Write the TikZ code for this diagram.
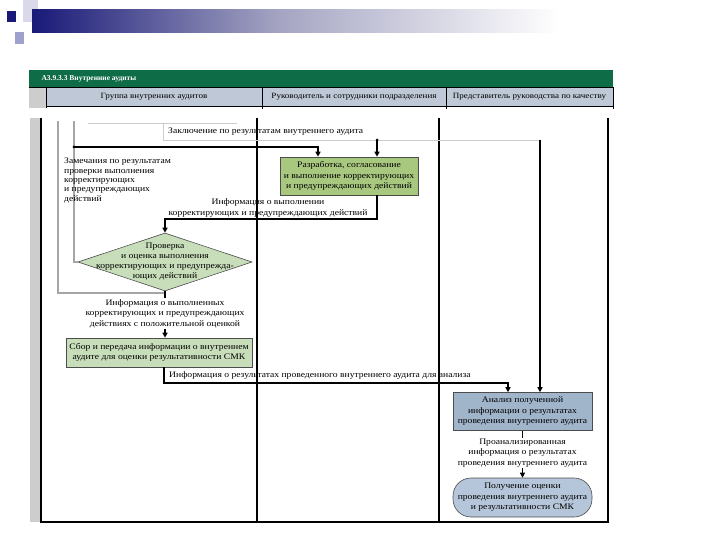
\documentclass[tikz,border=0pt]{standalone}
\usepackage{fontspec}
\setmainfont[FakeStretch=1.13]{Liberation Serif}
\newfontfamily\titlefont{Liberation Serif}
\usepackage{tikz}
\usetikzlibrary{arrows.meta, shapes.geometric, positioning}
\definecolor{navy}{RGB}{25,25,120}
\definecolor{lavender}{RGB}{160,160,205}
\definecolor{midlav}{RGB}{165,165,195}
\definecolor{titlegreen}{RGB}{14,108,70}
\definecolor{headblue}{RGB}{190,200,215}
\definecolor{bandgray}{RGB}{205,205,205}
\definecolor{devgreen}{RGB}{168,200,128}
\definecolor{palegreen}{RGB}{200,222,186}
\definecolor{analblue}{RGB}{160,180,202}
\definecolor{resblue}{RGB}{182,198,218}
\tikzset{
  flow/.style={line width=1.6pt, black},
  flowarrow/.style={flow, -{Triangle[length=5pt,width=5pt]}},
  loopline/.style={line width=1.2pt, gray!70},
  faint/.style={line width=0.6pt, gray!40},
  divider/.style={line width=1.4pt, black},
  procbox/.style={rectangle, draw=gray!60!black, line width=0.6pt, inner sep=2pt, align=center, font=\fontsize{8.5}{10.5}\selectfont},
  lbl/.style={align=center, inner sep=1pt, font=\fontsize{8.5}{10.5}\selectfont},
  headtext/.style={font=\fontsize{8}{9}\selectfont},
}

\begin{document}
\begin{tikzpicture}[x=1pt, y=-1pt]
    \useasboundingbox (0,0) rectangle (720,540);

    % Slide decoration
    \fill[lavender!40] (23,0) rectangle (38,22);
    \shade[left color=navy, right color=midlav] (32,10) rectangle (280,33);
    \shade[left color=midlav, right color=white] (280,10) rectangle (560,33);
    \fill[navy] (7,11) rectangle (16,22);
    \fill[lavender] (15,32) rectangle (24,44);

    % Title bar
    \fill[titlegreen] (29,70) rectangle (613,87);
    \node[anchor=west, text=white, font=\titlefont\fontsize{7.5}{9}\selectfont\bfseries] (title) at (38,78.5) {А3.9.3.3 Внутренние аудиты};

    % Header row
    \fill[headblue] (46,87) rectangle (613,106);
    \fill[bandgray] (29,87) rectangle (46,108);
    \draw[line width=0.8pt] (29,87) -- (613,87);
    \draw[line width=0.8pt] (46,106) -- (613,106);
    \draw[line width=0.8pt] (46,87) -- (46,108);
    \draw[line width=0.8pt] (262,87) -- (262,109);
    \draw[line width=0.8pt] (446,87) -- (446,109);
    \draw[line width=0.8pt] (613,87) -- (613,109);
    \node[headtext] (lane1) at (154,96.5) {Группа внутренних аудитов};
    \node[headtext] (lane2) at (354,96.5) {Руководитель и сотрудники подразделения};
    \node[headtext] (lane3) at (529.5,96.5) {Представитель руководства по качеству};

    % Body frame
    \fill[bandgray] (30,118) rectangle (40,522);
    \draw[divider] (41,118) -- (41,522) -- (608,522) -- (608,118);
    \draw[divider] (257,118) -- (257,522);
    \draw[divider] (439,118) -- (439,522);

    % Process nodes
    \node[procbox, fill=devgreen, minimum width=138pt, minimum height=38pt] (dev) at (349,176)
        {Разработка, согласование\\и выполнение корректирующих\\и предупреждающих действий};
    \node[diamond, draw=gray!60!black, line width=0.6pt, fill=palegreen, minimum width=174pt, minimum height=58pt, inner sep=0pt] (chk) at (165,262) {};
    \node[lbl, font=\fontsize{8.5}{10}\selectfont] (chktext) at (chk.center)
        {Проверка\\и оценка выполнения\\корректирующих и предупрежда-\\ющих действий};
    \node[procbox, fill=palegreen, minimum width=186pt, minimum height=29pt] (sbor) at (159,352.5)
        {Сбор и передача информации о внутреннем\\аудите для оценки результативности СМК};
    \node[procbox, fill=analblue, minimum width=139pt, minimum height=38pt] (anal) at (522.5,411.5)
        {Анализ полученной\\информации о результатах\\проведения внутреннего аудита};
    \node[procbox, fill=resblue, rounded corners=18pt, minimum width=139pt, minimum height=39pt] (final) at (522.5,497.5)
        {Получение оценки\\проведения внутреннего аудита\\и результативности СМК};

    % Junction points
    \coordinate (zaklL) at (163,140);
    \coordinate (zaklA) at (377,140);
    \coordinate (zaklR) at (540,140);
    \coordinate (zamTop) at (74,147);
    \coordinate (infoTurn) at (165,219);
    \coordinate (chkOut) at (165,293);
    \coordinate (resTurn) at (508,383);

    % Faint scan lines
    \draw[faint] (88,123) -- (237,123);
    \draw[faint] (163,123) -- (zaklL) -- (zaklR);

    % Loop-back lines
    \draw[loopline] (chk.west) -| (74,121);
    \draw[loopline] (chkOut) -| (58,121);

    % Connectors
    \draw[flowarrow] (zaklA) -- (zaklA |- dev.north);
    \draw[flowarrow] (zaklR) -- (zaklR |- anal.north);
    \draw[flowarrow] (zamTop) -| ([xshift=-31pt]dev.north);
    \draw[flowarrow] ([xshift=28pt]dev.south) |- (infoTurn) -- (chk.north);
    \draw[flowarrow] (chk.south) -- (chk.south |- sbor.north);
    \draw[flowarrow] ([xshift=5pt]sbor.south) |- (resTurn) -- (resTurn |- anal.north);
    \draw[flowarrow] (anal.south) -- (final.north);
    \fill (zaklA) circle (1.5pt);
    \fill (zamTop) circle (1.5pt);

    % Flow labels
    \node[lbl, anchor=west] (zakllbl) at (167,132) {Заключение по результатам внутреннего аудита};
    \node[lbl, anchor=north west, align=left, font=\fontsize{8.5}{9.3}\selectfont] (zamlbl) at (63,157)
        {Замечания по результатам\\проверки выполнения\\корректирующих\\и предупреждающих\\действий};
    \node[lbl] (infolbl) at (268,208) {Информация о выполнении\\корректирующих и предупреждающих действий};
    \node[lbl, fill=white] (donelbl) at (165,313.5)
        {Информация о выполненных\\корректирующих и предупреждающих\\действиях с положительной оценкой};
    \node[lbl, anchor=west] (reslbl) at (168,375) {Информация о результатах проведенного внутреннего аудита для анализа};
    \node[lbl, fill=white] (anallbl) at (522.5,453)
        {Проанализированная\\информация о результатах\\проведения внутреннего аудита};
\end{tikzpicture}
\end{document}
